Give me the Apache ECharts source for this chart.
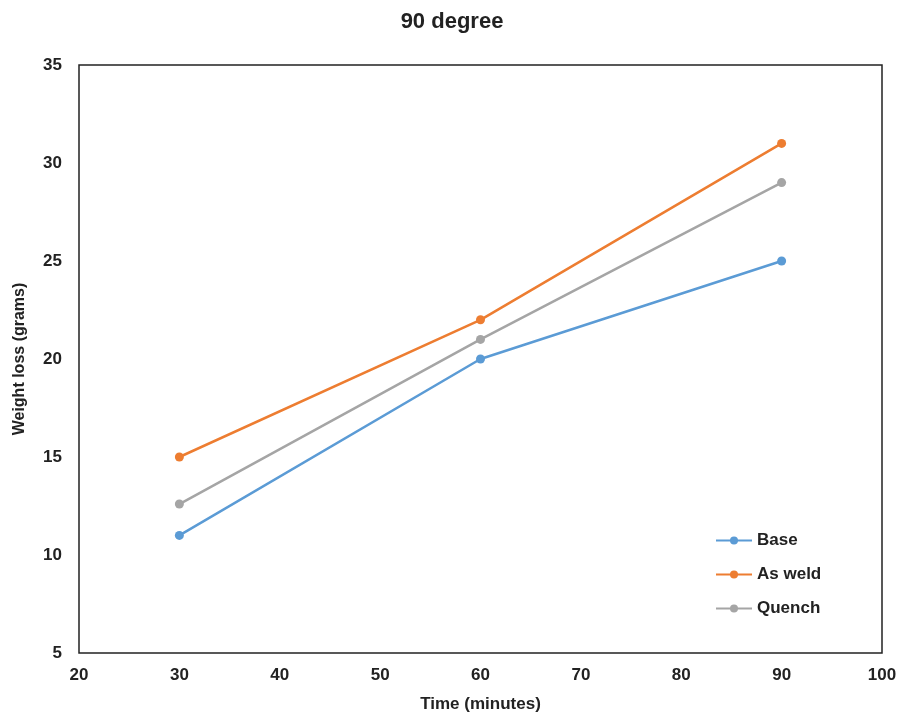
<!DOCTYPE html>
<html><head><meta charset="utf-8">
<script src="https://cdn.jsdelivr.net/npm/echarts@6/dist/echarts.min.js"></script>
<style>html,body{margin:0;padding:0;background:#fff}#c{width:904px;height:723px}</style>
</head><body><div id="c"></div>
<script>
const timeMinutes = [30, 60, 90];
const baseLoss = [11, 20, 25];
const asWeldLoss = [15, 22, 31];
const quenchLoss = [12.6, 21, 29];
const seriesNames = ['Base', 'As weld', 'Quench'];
const seriesColors = ['#5b9bd5', '#ed7d31', '#a5a5a5'];

const pairs = v => timeMinutes.map((t, i) => [t, v[i]]);
const allData = [baseLoss, asWeldLoss, quenchLoss];
const tickFont = {fontFamily: '"Liberation Sans Narrow", "Arial Narrow", "Liberation Sans", Arial, sans-serif', fontWeight: 'bold', fontSize: 17, color: '#222'};

const chart = echarts.init(document.getElementById('c'), null, {renderer: 'canvas'});
chart.setOption({
  backgroundColor: '#ffffff',
  animation: false,
  title: {text: '90 degree', left: 'center', top: 6,
    textStyle: {fontFamily: '"Liberation Sans", Arial, sans-serif', fontWeight: 'bold', fontSize: 22, color: '#222'}},
  grid: {left: 79, right: 22, top: 65, bottom: 70, show: true, borderColor: '#222', borderWidth: 1.5},
  legend: {
    orient: 'vertical', left: 710, top: 527, itemGap: 17, itemWidth: 36, itemHeight: 10,
    data: seriesNames,
    textStyle: {fontFamily: '"Liberation Sans", Arial, sans-serif', fontWeight: 'bold', fontSize: 17, color: '#222'}
  },
  xAxis: {
    type: 'value', min: 20, max: 100, interval: 10,
    name: 'Time (minutes)', nameLocation: 'middle', nameGap: 43,
    nameTextStyle: tickFont,
    axisLine: {show: false}, axisTick: {show: false}, splitLine: {show: false},
    axisLabel: Object.assign({margin: 14}, tickFont)
  },
  yAxis: {
    type: 'value', min: 5, max: 35, interval: 5,
    name: 'Weight loss (grams)', nameLocation: 'middle', nameGap: 51,
    nameTextStyle: Object.assign({}, tickFont, {fontFamily: '"Liberation Sans", Arial, sans-serif', fontSize: 16}),
    axisLine: {show: false}, axisTick: {show: false}, splitLine: {show: false},
    axisLabel: Object.assign({margin: 17}, tickFont)
  },
  series: seriesNames.map((n, i) => ({
    name: n, type: 'line', data: pairs(allData[i]),
    symbol: 'circle', symbolSize: 9,
    lineStyle: {color: seriesColors[i], width: 2.5},
    itemStyle: {color: seriesColors[i]}
  }))
});
</script></body></html>
